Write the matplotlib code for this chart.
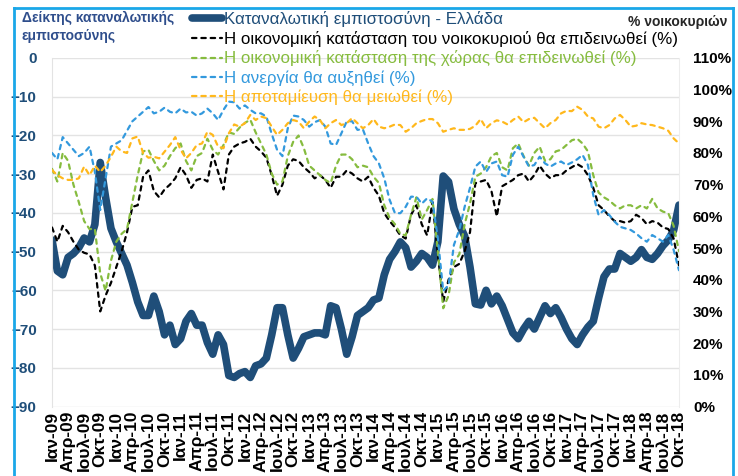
import matplotlib
matplotlib.use("Agg")
import matplotlib.pyplot as plt
from matplotlib.lines import Line2D
import numpy as np

plt.rcParams['font.family'] = ['Liberation Sans', 'DejaVu Sans']

# Ιαν-09 ... Οκτ-18, μηνιαία
month_names = ['Ιαν', 'Φεβ', 'Μαρ', 'Απρ', 'Μαϊ', 'Ιουν',
               'Ιουλ', 'Αυγ', 'Σεπ', 'Οκτ', 'Νοε', 'Δεκ']
n_months = 118
months = np.arange(n_months)
tick_pos = months[::3]
tick_labels = [f"{month_names[m % 12]}-{9 + m // 12:02d}" for m in tick_pos]

# Καταναλωτική εμπιστοσύνη - Ελλάδα (αριστερός άξονας)
confidence = [
    -47, -55, -56, -51.5, -50.5, -49, -46.5, -47.5, -43, -27,
    -36, -44, -47.5, -50.5, -53.5, -58, -63, -66.5, -66.5, -61.5,
    -65.5, -71.5, -69, -74, -72.5, -68, -66, -69, -69, -73.5,
    -76.5, -71.5, -74, -82, -82.5, -81.5, -81, -82.5, -79.5, -79,
    -77.5, -71.5, -64.5, -64.5, -71.5, -77.5, -75, -72, -71.5, -71,
    -71, -71.5, -64, -64.5, -70, -76.5, -72, -66.5, -65.5, -64.5,
    -62.5, -62, -56, -52, -50, -47.5, -49, -54, -52.5, -50.5,
    -51.5, -53.5, -47.5, -30.5, -32, -39, -43, -46, -54, -63.5,
    -63.8, -60, -63.5, -61.5, -64, -67.5, -71, -72.5, -70, -68,
    -70, -67, -64, -66, -64.5, -67, -70, -72.5, -74, -71.5,
    -69.5, -68, -62, -56.5, -54.5, -54.5, -50.5, -51.5, -52.5, -51.5,
    -49.5, -51.5, -52, -50.5, -48.5, -47, -44.5, -38,
]

# % νοικοκυριών (δεξιός άξονας)
household_worse = [
    56.5, 52, 57, 55, 52, 49.5, 48.5, 48, 44.5, 30,
    35, 39, 44, 49, 55, 63, 63.5, 72.5, 74.5, 68,
    66, 68.5, 70, 72, 75.5, 73, 69, 71.5, 72, 71,
    79.5, 74, 68.5, 79.5, 82, 83, 83.5, 84.5, 82, 80.5,
    78.5, 73, 66.5, 70, 76, 78, 77.5, 75.5, 74, 72,
    73, 71.5, 69, 72.5, 72.5, 74.5, 73.5, 72, 71, 72.5,
    69, 66.5, 61, 58.5, 56.5, 54, 53, 60.5, 63.5, 57.5,
    54, 64.5, 48, 33, 40, 44, 45, 49, 55, 70.5,
    71, 71.5, 68, 60, 69.5, 70.5, 71.5, 73, 73.5, 71,
    73, 76, 73.5, 72, 73, 73, 74.5, 75.5, 76.5, 75.5,
    73, 69, 63.5, 62, 60, 58.5, 58.5, 58, 58.5, 60.5,
    59.5, 57.5, 58.5, 58, 56.5, 56, 53, 44.5,
]

country_worse = [
    75, 71, 80, 77.5, 70, 64.5, 58.5, 56, 56, 42,
    36.5, 46, 52, 54.5, 56, 64.5, 73, 80.5, 81, 77.5,
    74.5, 76, 79, 81.5, 83, 77.5, 74.5, 79, 80, 84.5,
    81, 79.5, 82.5, 86.5, 86, 88, 89.5, 90.5, 86.5, 83,
    79.5, 73.5, 70, 71, 79, 83.5, 85.5, 81.5, 76, 74.5,
    73, 71.5, 70.5, 76, 79.5, 79.5, 78, 75.5, 76, 75.5,
    72.5, 70.5, 63.5, 59.5, 57.5, 54.5, 54, 60.5, 66, 59,
    62, 65.5, 49, 31, 35, 45.5, 48, 57.5, 64, 72.5,
    73.5, 75.5, 79, 80, 75.5, 74.5, 81.5, 83, 79, 76,
    80, 82, 77.5, 78, 80.5, 81, 82.5, 84, 84.5, 83,
    80.5, 73, 67.5, 66, 65, 63.5, 62.5, 63.5, 63.5, 62.5,
    63.5, 62.5, 65.5, 62.5, 61.5, 61, 57, 49,
]

unemployment_up = [
    80, 78, 85, 83, 81, 79, 80, 82, 74, 62,
    72, 82, 83, 84, 87, 90, 91.5, 93, 94.5, 92.5,
    93, 94.3, 93, 92.5, 94, 92.8, 93, 91.8, 92.5, 94,
    92.5, 90.4, 93.6, 96.2, 96, 94, 95, 93.6, 92.5, 92.5,
    91.5, 86, 81, 79, 87.8, 91.8, 91.5, 90.4, 88.3, 89.7,
    90.4, 88.3, 83, 82.5, 86.2, 90, 90, 87.3, 87.5, 83,
    79, 76.7, 72, 65.2, 61, 61, 63, 66.2, 66.2, 64,
    65.7, 64.6, 53, 36.5, 38.3, 51, 55.7, 63, 69, 75.7,
    77.3, 74, 76.7, 77.3, 73, 72.5, 79.4, 82, 78.8, 75.7,
    76.2, 78.8, 76.7, 75.7, 76.7, 77.3, 76.2, 77, 78, 79.4,
    76.2, 66.7, 60.4, 62, 60.4, 58.3, 56.7, 56.2, 55.7, 54.6,
    53.1, 52, 54.1, 53.1, 52, 54.1, 49.4, 43,
]

savings_down = [
    74.6, 73, 72, 71.5, 71.5, 72, 75.7, 73, 76, 74,
    76, 78.8, 82, 80.5, 80, 84.6, 85.2, 80, 78.5, 78.8,
    78.3, 80.4, 82.5, 85, 81, 78.3, 80, 82.5, 83, 86.7,
    85.7, 82, 81.5, 86.2, 89, 88.3, 89.4, 92, 90.4, 91.5,
    91, 88.3, 85.7, 87.3, 89.4, 90.4, 89.9, 87.8, 89.9, 91.5,
    90.4, 87.8, 89.4, 90.4, 88.8, 89.4, 91, 89.4, 87.8, 88.8,
    90.7, 88.3, 87.8, 88.3, 89, 88.8, 86.7, 87.8, 89.4, 90.1,
    90.7, 90.7, 89.4, 86.7, 87.3, 87.8, 87.3, 87.3, 87.6, 88.6,
    90.7, 87.8, 89.4, 90.3, 89.9, 89, 90.4, 91.5, 89.7, 90.7,
    91.1, 89.4, 87.8, 89.4, 90.4, 92.5, 93.3, 93.2, 94.6, 93.6,
    91.5, 90.9, 88.3, 87.8, 88.8, 90.9, 92, 90.4, 88.3, 88.6,
    89.4, 89, 88.8, 88.3, 87.8, 87, 84.6, 83,
]

dark_blue = '#1F4E79'
c_black = '#000000'
c_green = '#86BC3F'
c_blue = '#3399DD'
c_orange = '#FFB81C'

fig = plt.figure(figsize=(7.38, 4.76), dpi=100)
ax = fig.add_axes([52 / 738, 1 - 406.5 / 476, 627 / 738, 348.6 / 476])
ax2 = ax.twinx()

ax.plot(months, confidence, color=dark_blue, lw=5.5, solid_capstyle='round',
        solid_joinstyle='round', label='Καταναλωτική εμπιστοσύνη - Ελλάδα')

dash = (0, (2.0, 2.2))
right_series = [
    (household_worse, c_black, 'Η οικονομική κατάσταση του νοικοκυριού θα επιδεινωθεί (%)'),
    (country_worse, c_green, 'Η οικονομική κατάσταση της χώρας θα επιδεινωθεί (%)'),
    (unemployment_up, c_blue, 'Η ανεργία θα αυξηθεί (%)'),
    (savings_down, c_orange, 'Η αποταμίευση θα μειωθεί (%)'),
]
for vals, col, lab in right_series:
    ax2.plot(months, vals, color=col, lw=1.6, linestyle=dash,
             dash_capstyle='round', label=lab)

ax.set_xlim(0, n_months - 1)
ax.set_ylim(-90, 0)
ax2.set_ylim(0, 110)
ax.set_yticks(np.arange(-90, 1, 10))
ax2.set_yticks(np.arange(0, 111, 10))
ax2.set_yticklabels([f"{v}%" for v in range(0, 111, 10)])
ax.set_xticks(tick_pos)
ax.set_xticklabels(tick_labels, rotation=90, fontsize=12.5, fontweight='bold')

ax.grid(axis='y', color='#E3E3E3', lw=1)
ax.set_axisbelow(True)
ax.tick_params(axis='both', length=0)
ax.tick_params(axis='y', labelsize=11, labelcolor=dark_blue, pad=11)
ax.tick_params(axis='x', pad=3)
ax2.tick_params(axis='y', length=0, labelsize=11, pad=10)
for lab in ax.get_yticklabels():
    lab.set_fontweight('bold')
for lab in ax2.get_yticklabels():
    lab.set_fontweight('bold')

for a in (ax, ax2):
    for s in a.spines.values():
        s.set_visible(False)
ax.spines['left'].set_visible(True)
ax.spines['left'].set_color('#E3E3E3')
ax.spines['right'].set_visible(True)
ax.spines['right'].set_color('#EDEDED')

handles = [Line2D([], [], color=dark_blue, lw=5.5, solid_capstyle='round')]
handles += [Line2D([], [], color=c, lw=1.6, linestyle=dash, dash_capstyle='round')
            for _, c, _ in right_series]
labels = ['Καταναλωτική εμπιστοσύνη - Ελλάδα'] + [l for _, _, l in right_series]
leg = ax2.legend(handles, labels, loc='upper left',
                 bbox_to_anchor=(192 / 738, 1 - 11 / 476),
                 bbox_transform=fig.transFigure, frameon=False, fontsize=12.2,
                 handlelength=1.75, handletextpad=0.15, labelspacing=0.22,
                 borderpad=0, borderaxespad=0)
for txt, col in zip(leg.get_texts(), [dark_blue, c_black, c_green, c_blue, c_orange]):
    txt.set_color(col)

fig.text(22 / 738, 1 - 11 / 476, 'Δείκτης καταναλωτικής\nεμπιστοσύνης',
         ha='left', va='top', fontsize=10, fontweight='bold', color='#2F4E8C',
         linespacing=1.35)
fig.text(727 / 738, 1 - 22 / 476, '% νοικοκυριών', ha='right', va='center',
         fontsize=10, fontweight='bold', color='#262626')

# γαλάζιο πλαίσιο γύρω από το γράφημα
border = '#1AA7E8'
fig.add_artist(Line2D([13.5 / 738, 13.5 / 738], [0, 1 - 7.5 / 476], color=border, lw=2,
                      transform=fig.transFigure))
fig.add_artist(Line2D([732.5 / 738, 732.5 / 738], [0, 1 - 7.5 / 476], color=border, lw=2,
                      transform=fig.transFigure))
fig.add_artist(Line2D([13.5 / 738, 732.5 / 738], [1 - 7.5 / 476, 1 - 7.5 / 476], color=border,
                      lw=2, transform=fig.transFigure))

fig.savefig('out.png', dpi=100)
